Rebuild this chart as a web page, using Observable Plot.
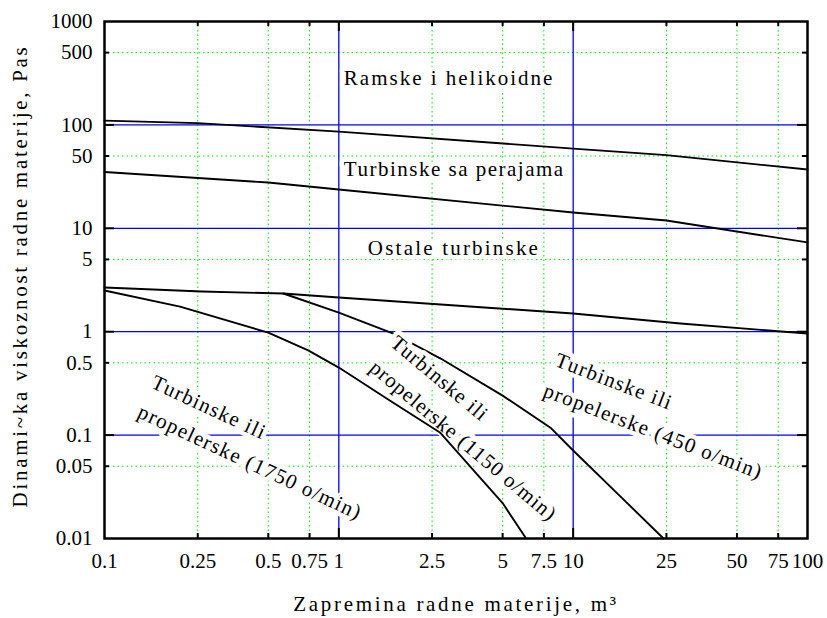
<!DOCTYPE html>
<html>
<head>
<meta charset="utf-8">
<script src="https://cdn.jsdelivr.net/npm/d3@7"></script>
<script src="https://cdn.jsdelivr.net/npm/@observablehq/plot@0.6"></script>
<style>
  html, body { margin: 0; padding: 0; background: #fff; }
</style>
</head>
<body>
<div id="chart"></div>
<script>
// ---- Data ----
const xTicks = [0.1, 0.25, 0.5, 0.75, 1, 2.5, 5, 7.5, 10, 25, 50, 75, 100];
const yTicks = [0.01, 0.05, 0.1, 0.5, 1, 5, 10, 50, 100, 500, 1000];
const xMajor = [1, 10];
const xMinor = [0.25, 0.5, 0.75, 2.5, 5, 7.5, 25, 50, 75];
const yMajor = [0.1, 1, 10, 100];
const yMinor = [0.05, 0.5, 5, 50, 500];

// curves: volume (m3) vs viscosity (Pa s)
const ramskeX = [0.1, 0.25, 1, 10, 25, 100];
const ramskeY = [110, 104, 86, 59, 51, 37];
const perajamaX = [0.1, 0.5, 1, 10, 25, 100];
const perajamaY = [35, 27.7, 23.7, 14.2, 11.9, 7.3];
const ostaleX = [0.1, 0.26, 0.58, 1, 10, 28.7, 100];
const ostaleY = [2.68, 2.45, 2.34, 2.14, 1.5, 1.2, 0.96];
const r1750X = [0.1, 0.21, 0.5, 0.74, 1, 1.6, 2.7, 5, 6.3];
const r1750Y = [2.5, 1.75, 0.98, 0.66, 0.45, 0.226, 0.106, 0.022, 0.01];
const r1150X = [0.58, 1, 1.71, 2.72, 5, 8, 10, 15.5, 24.3];
const r1150Y = [2.34, 1.53, 0.96, 0.55, 0.241, 0.118, 0.071, 0.027, 0.01];

const labelRamske = "Ramske i helikoidne";
const labelPerajama = "Turbinske sa perajama";
const labelOstale = "Ostale turbinske";
const label1750 = "Turbinske ili\npropelerske (1750 o/min)";
const label1150 = "Turbinske ili\npropelerske (1150 o/min)";
const label450 = "Turbinske ili\npropelerske (450 o/min)";
const xTitle = "Zapremina radne materije, m³";
const yTitle = "Dinami~ka viskoznost radne materije, Pas";

// ---- Layout ----
const W = 827, H = 618;
const mt = 21, mb = 80, ml = 104, mr = 20;
const plotW = W - ml - mr, plotH = H - mt - mb;
const majLen = 10, minLen = 5;

const pts = (xs, ys) => xs.map((x, i) => ({x, y: ys[i]}));
const curve = (xs, ys) => Plot.line(pts(xs, ys), {x: "x", y: "y", stroke: "black", strokeWidth: 1.9});
const halo = {stroke: "white", strokeWidth: 9, fill: "black"};

const chart = Plot.plot({
  width: W, height: H,
  marginTop: mt, marginBottom: mb, marginLeft: ml, marginRight: mr,
  style: {fontFamily: "'Liberation Serif', 'Times New Roman', serif", fontSize: "21px", background: "#fff", color: "black"},
  x: {type: "log", domain: [0.1, 100], axis: null},
  y: {type: "log", domain: [0.01, 1000], axis: null},
  marks: [
    // grid
    Plot.ruleX(xMinor, {x: d => d, stroke: "#00e600", strokeWidth: 1, strokeDasharray: "1.5,3"}),
    Plot.ruleY(yMinor, {y: d => d, stroke: "#00e600", strokeWidth: 1, strokeDasharray: "1.5,3"}),
    Plot.ruleX(xMajor, {x: d => d, stroke: "#0000ff", strokeWidth: 1.3}),
    Plot.ruleY(yMajor, {y: d => d, stroke: "#0000ff", strokeWidth: 1.3}),
    // inner ticks
    Plot.tickX(xMajor, {x: d => d, insetTop: plotH - majLen, stroke: "black", strokeWidth: 2}),
    Plot.tickX(xMajor, {x: d => d, insetBottom: plotH - majLen, stroke: "black", strokeWidth: 2}),
    Plot.tickX(xMinor, {x: d => d, insetTop: plotH - minLen, stroke: "black", strokeWidth: 2}),
    Plot.tickX(xMinor, {x: d => d, insetBottom: plotH - minLen, stroke: "black", strokeWidth: 2}),
    Plot.tickY(yMajor, {y: d => d, insetRight: plotW - majLen, stroke: "black", strokeWidth: 2}),
    Plot.tickY(yMajor, {y: d => d, insetLeft: plotW - majLen, stroke: "black", strokeWidth: 2}),
    Plot.tickY(yMinor, {y: d => d, insetRight: plotW - minLen, stroke: "black", strokeWidth: 2}),
    Plot.tickY(yMinor, {y: d => d, insetLeft: plotW - minLen, stroke: "black", strokeWidth: 2}),
    // curves
    curve(ramskeX, ramskeY),
    curve(perajamaX, perajamaY),
    curve(ostaleX, ostaleY),
    curve(r1150X, r1150Y),
    // region labels
    Plot.text([labelRamske], {x: () => 1.05, y: () => 281, text: d => d, textAnchor: "start", ...halo}),
    Plot.text([labelPerajama], {x: () => 1.05, y: () => 37, text: d => d, textAnchor: "start", ...halo}),
    Plot.text([labelOstale], {x: () => 1.33, y: () => 6.4, text: d => d, textAnchor: "start", ...halo}),
    Plot.text([label1750], {x: () => 0.1527, y: () => 0.258, text: d => d, textAnchor: "start", rotate: 25, lineHeight: 1.55, ...halo}),
    Plot.text([label1150], {x: () => 1.58, y: () => 0.673, text: d => d, textAnchor: "start", rotate: 40, lineHeight: 1.55, ...halo}),
    Plot.text([label450], {x: () => 8.09, y: () => 0.417, text: d => d, textAnchor: "start", rotate: 21, lineHeight: 1.55, ...halo}),
    // the 1750 curve is not interrupted by any label
    curve(r1750X, r1750Y),
    // axis titles
    Plot.text([yTitle], {frameAnchor: "left", text: d => d, rotate: -90, dx: -84, dy: -4, textAnchor: "middle", lineAnchor: "middle"}),
    Plot.text([xTitle], {frameAnchor: "bottom", text: d => d, dy: 66, textAnchor: "middle", lineAnchor: "middle"}),
    // tick labels
    Plot.text(xTicks, {x: d => d, frameAnchor: "bottom", text: d => String(d), dy: 15, textAnchor: "middle", lineAnchor: "top"}),
    Plot.text(yTicks, {y: d => d, frameAnchor: "left", text: d => String(d), dx: -12, textAnchor: "end", lineAnchor: "middle"}),
    Plot.frame({stroke: "black", strokeWidth: 2.5})
  ]
});

document.getElementById("chart").appendChild(chart);

// letter spacing to mimic the reference's wide typesetting
const textGroups = chart.querySelectorAll('g[aria-label="text"]');
const spacing = [2, 1.5, 2.2, 1.3, 1.0, 1.3, 2.7, 2.7, 0, 0];
textGroups.forEach((g, i) => {
  g.querySelectorAll("text").forEach(t => t.style.letterSpacing = (spacing[i] ?? 0) + "px");
});
</script>
</body>
</html>
